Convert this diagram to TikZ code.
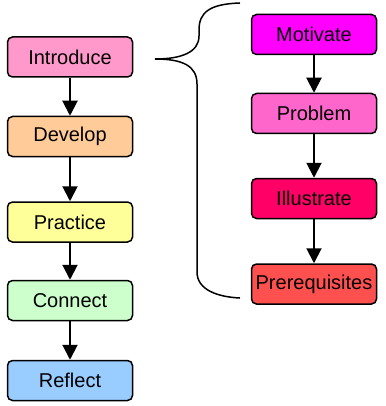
\documentclass[tikz,border=0pt]{standalone}
\usepackage{fontspec}
\setmainfont{Liberation Sans}
\usetikzlibrary{arrows.meta}
\definecolor{cIntro}{HTML}{FF99CC}
\definecolor{cDev}{HTML}{FFCC99}
\definecolor{cPrac}{HTML}{FFFF99}
\definecolor{cConn}{HTML}{CCFFCC}
\definecolor{cRefl}{HTML}{99CCFF}
\definecolor{cMot}{HTML}{FF00FF}
\definecolor{cProb}{HTML}{FF66CC}
\definecolor{cIll}{HTML}{FF0066}
\definecolor{cPre}{HTML}{FF5050}
\tikzset{
  stepbox/.style={draw=black, line width=1.5pt, rounded corners=5pt, minimum width=125pt, minimum height=40pt, inner sep=0pt, font=\fontsize{20}{23}\selectfont},
  flow/.style={line width=2pt, -{Triangle[width=15pt,length=15pt]}},
  bracestyle/.style={line width=1.5pt}
}
\begin{document}
\begin{tikzpicture}[x=1pt,y=-1pt]
\useasboundingbox (0,0) rectangle (385,406);
\node[stepbox, fill=cIntro] (intro) at (70,57) {Introduce};
\node[stepbox, fill=cDev] (dev) at (70,136.5) {Develop};
\node[stepbox, fill=cPrac] (prac) at (70,222) {Practice};
\node[stepbox, fill=cConn] (conn) at (70,300.5) {Connect};
\node[stepbox, fill=cRefl] (refl) at (70,380.5) {Reflect};
\node[stepbox, fill=cMot] (mot) at (314,34.5) {Motivate};
\node[stepbox, fill=cProb] (prob) at (314,113.5) {Problem};
\node[stepbox, fill=cIll] (ill) at (314,198.5) {Illustrate};
\node[stepbox, fill=cPre] (pre) at (314,284) {Prerequisites};
\draw[flow] (intro) -- (dev);
\draw[flow] (dev) -- (prac);
\draw[flow] (prac) -- (conn);
\draw[flow] (conn) -- (refl);
\draw[flow] (mot) -- (prob);
\draw[flow] (prob) -- (ill);
\draw[flow] (ill) -- (pre);
\draw[bracestyle] (240,3) .. controls (210,4) and (199,12) .. (199,30) -- (199,36)
  .. controls (199,52) and (182,59) .. (155,59)
  .. controls (183,59) and (197,66) .. (197,84) -- (197,272)
  .. controls (197,290) and (218,297) .. (240,298);
\end{tikzpicture}
\end{document}
